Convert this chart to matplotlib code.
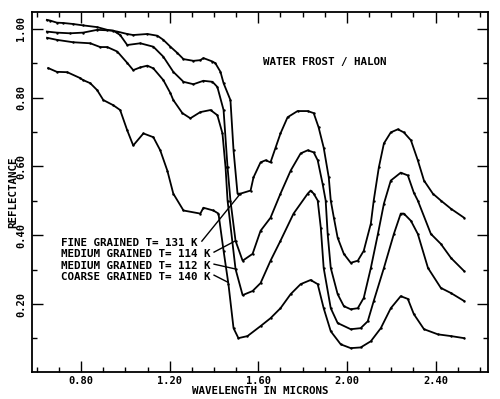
import matplotlib
matplotlib.use("Agg")
import matplotlib.pyplot as plt

# Reflectance spectra of water frost relative to halon
fine_wl = [0.645, 0.660, 0.690, 0.719, 0.764, 0.809, 0.872, 0.918, 0.963, 1.008,
           1.035, 1.099, 1.144, 1.171, 1.203, 1.234, 1.262, 1.307, 1.338, 1.352,
           1.393, 1.406, 1.429, 1.443, 1.474, 1.488, 1.506, 1.519, 1.565, 1.578,
           1.610, 1.633, 1.655, 1.678, 1.700, 1.732, 1.777, 1.823, 1.850, 1.872,
           1.895, 1.918, 1.927, 1.941, 1.958, 1.986, 2.017, 2.049, 2.076, 2.108,
           2.121, 2.144, 2.167, 2.198, 2.230, 2.257, 2.289, 2.320, 2.348, 2.388,
           2.424, 2.470, 2.529]
fine_r = [1.026, 1.024, 1.018, 1.017, 1.014, 1.010, 1.005, 0.997, 0.992, 0.985,
          0.982, 0.985, 0.980, 0.968, 0.948, 0.930, 0.912, 0.907, 0.909, 0.915,
          0.905, 0.900, 0.875, 0.842, 0.793, 0.647, 0.521, 0.521, 0.530, 0.568,
          0.612, 0.618, 0.612, 0.655, 0.696, 0.743, 0.761, 0.761, 0.755, 0.714,
          0.655, 0.568, 0.501, 0.451, 0.393, 0.346, 0.320, 0.326, 0.355, 0.434,
          0.501, 0.597, 0.667, 0.699, 0.708, 0.699, 0.676, 0.618, 0.559, 0.521,
          0.501, 0.477, 0.451]

med114_wl = [0.645, 0.690, 0.750, 0.809, 0.872, 0.945, 0.976, 1.008, 1.067, 1.126,
             1.171, 1.216, 1.262, 1.307, 1.352, 1.393, 1.415, 1.443, 1.461, 1.474,
             1.497, 1.529, 1.574, 1.610, 1.655, 1.700, 1.746, 1.791, 1.823, 1.850,
             1.868, 1.890, 1.904, 1.913, 1.927, 1.958, 1.986, 2.017, 2.049, 2.076,
             2.108, 2.140, 2.167, 2.198, 2.243, 2.275, 2.302, 2.320, 2.379, 2.424,
             2.470, 2.529]
med114_r = [0.992, 0.989, 0.987, 0.989, 0.997, 0.995, 0.982, 0.953, 0.958, 0.948,
            0.919, 0.875, 0.846, 0.839, 0.849, 0.846, 0.831, 0.764, 0.597, 0.501,
            0.384, 0.326, 0.346, 0.413, 0.451, 0.521, 0.588, 0.638, 0.647, 0.641,
            0.618, 0.550, 0.501, 0.404, 0.305, 0.229, 0.194, 0.185, 0.188, 0.218,
            0.305, 0.404, 0.492, 0.559, 0.582, 0.574, 0.524, 0.501, 0.404, 0.375,
            0.334, 0.296]

med112_wl = [0.646, 0.690, 0.764, 0.841, 0.886, 0.918, 0.963, 1.008, 1.035, 1.067,
             1.099, 1.126, 1.171, 1.203, 1.216, 1.257, 1.293, 1.338, 1.384, 1.415,
             1.438, 1.452, 1.461, 1.497, 1.529, 1.574, 1.610, 1.655, 1.700, 1.759,
             1.823, 1.836, 1.850, 1.868, 1.882, 1.895, 1.927, 1.958, 2.017, 2.062,
             2.094, 2.121, 2.167, 2.212, 2.243, 2.257, 2.289, 2.320, 2.366, 2.424,
             2.470, 2.529]
med112_r = [0.974, 0.968, 0.961, 0.958, 0.947, 0.947, 0.934, 0.901, 0.880, 0.888,
            0.893, 0.885, 0.851, 0.813, 0.793, 0.755, 0.740, 0.758, 0.764, 0.749,
            0.696, 0.597, 0.501, 0.302, 0.226, 0.238, 0.261, 0.326, 0.384, 0.463,
            0.521, 0.530, 0.521, 0.501, 0.422, 0.305, 0.188, 0.145, 0.127, 0.130,
            0.150, 0.209, 0.305, 0.404, 0.463, 0.463, 0.442, 0.404, 0.305, 0.247,
            0.232, 0.209]

coarse_wl = [0.651, 0.690, 0.737, 0.795, 0.809, 0.841, 0.872, 0.900, 0.945, 0.976,
             1.008, 1.035, 1.081, 1.126, 1.157, 1.189, 1.216, 1.262, 1.338, 1.352,
             1.397, 1.420, 1.443, 1.465, 1.488, 1.510, 1.551, 1.610, 1.655, 1.700,
             1.746, 1.791, 1.836, 1.868, 1.895, 1.927, 1.972, 2.017, 2.062, 2.108,
             2.153, 2.198, 2.243, 2.275, 2.302, 2.348, 2.411, 2.470, 2.529]
coarse_r = [0.886, 0.875, 0.874, 0.857, 0.851, 0.842, 0.822, 0.793, 0.778, 0.764,
            0.705, 0.661, 0.696, 0.685, 0.647, 0.588, 0.521, 0.472, 0.463, 0.480,
            0.472, 0.463, 0.355, 0.258, 0.130, 0.101, 0.107, 0.136, 0.159, 0.188,
            0.229, 0.258, 0.270, 0.258, 0.188, 0.121, 0.083, 0.072, 0.074, 0.092,
            0.130, 0.188, 0.223, 0.215, 0.171, 0.127, 0.112, 0.107, 0.101]

labels = ["FINE GRAINED T= 131 K",
          "MEDIUM GRAINED T= 114 K",
          "MEDIUM GRAINED T= 112 K",
          "COARSE GRAINED T= 140 K"]

# where each label's leader line ends on its curve
leader_end = [(1.519, 0.521), (1.497, 0.384), (1.497, 0.302), (1.461, 0.264)]
label_y = [0.378, 0.346, 0.311, 0.279]
leader_start_x = [1.345, 1.400, 1.400, 1.400]

mono = "DejaVu Sans Mono"
fsize = 7.8

fig = plt.figure(figsize=(5, 3.99), dpi=100)
ax = fig.add_axes([0.064, 0.068, 0.912, 0.902])

for wl, r in [(fine_wl, fine_r), (med114_wl, med114_r),
              (med112_wl, med112_r), (coarse_wl, coarse_r)]:
    ax.plot(wl, r, color="black", linewidth=1.3, marker=".", markersize=1.5)

# curve labels with leader lines
for lab, ly, sx, (ex, ey) in zip(labels, label_y, leader_start_x, leader_end):
    ax.text(0.71, ly, lab, family=mono, fontweight="bold", fontsize=fsize,
            ha="left", va="center")
    ax.plot([sx, ex], [ly + 0.005, ey], color="black", linewidth=1.0)

ax.text(1.621, 0.904, "WATER FROST / HALON", family=mono, fontweight="bold",
        fontsize=fsize, ha="left", va="center")

ax.set_xlim(0.578, 2.637)
ax.set_ylim(0.003, 1.049)

ax.set_xticks([0.8, 1.2, 1.6, 2.0, 2.4])
ax.set_xticklabels(["0.80", "1.20", "1.60", "2.00", "2.40"])
ax.set_xticks([0.6 + 0.1 * i for i in range(21)], minor=True)
ax.set_yticks([0.2, 0.4, 0.6, 0.8, 1.0])
ax.set_yticklabels(["0.20", "0.40", "0.60", "0.80", "1.00"], rotation=90,
                   va="center")
ax.set_yticks([0.1 * i for i in range(1, 11)], minor=True)

ax.tick_params(which="both", direction="in", top=True, right=True,
               width=1.0, labelsize=7.5)
ax.tick_params(which="major", length=8)
ax.tick_params(which="minor", length=3.5)
ax.tick_params(axis="x", pad=3)
ax.tick_params(axis="y", pad=4)
for t in ax.get_xticklabels() + ax.get_yticklabels():
    t.set_family(mono)
    t.set_fontweight("bold")

for s in ax.spines.values():
    s.set_linewidth(1.3)

ax.set_xlabel("WAVELENGTH IN MICRONS", family=mono, fontweight="bold",
              fontsize=fsize, labelpad=0)
ax.set_ylabel("REFLECTANCE", family=mono, fontweight="bold",
              fontsize=fsize, labelpad=-1)

fig.savefig("out.png", dpi=100)
